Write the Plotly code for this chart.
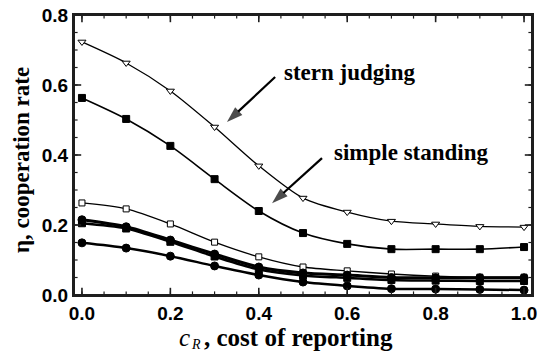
import plotly.graph_objects as go

cost = [0.0, 0.1, 0.2, 0.3, 0.4, 0.5, 0.6, 0.7, 0.8, 0.9, 1.0]

sj_open = [0.723, 0.663, 0.583, 0.480, 0.369, 0.277, 0.237, 0.211, 0.203, 0.196, 0.194]
sj_filled = [0.563, 0.503, 0.426, 0.331, 0.240, 0.177, 0.146, 0.131, 0.131, 0.131, 0.137]
ss_open = [0.263, 0.246, 0.203, 0.151, 0.109, 0.080, 0.069, 0.060, 0.054, 0.051, 0.051]
ss_thick_a = [0.215, 0.195, 0.157, 0.117, 0.080, 0.063, 0.057, 0.050, 0.049, 0.049, 0.049]
ss_thick_b = [0.205, 0.190, 0.152, 0.110, 0.073, 0.056, 0.049, 0.043, 0.041, 0.040, 0.040]
ss_low = [0.149, 0.134, 0.111, 0.083, 0.057, 0.037, 0.026, 0.018, 0.017, 0.016, 0.014]

x_major = [0.0, 0.2, 0.4, 0.6, 0.8, 1.0]
y_major = [0.0, 0.2, 0.4, 0.6, 0.8]
x_minor = [i * 0.05 for i in range(21)]
y_minor = [i * 0.05 for i in range(17)]

X_RANGE = [-0.018, 1.018]
Y_RANGE = [0.0, 0.8]
W, H = 540, 355
M = dict(l=74, r=8, t=15, b=60)
PX_X = (W - M["l"] - M["r"]) / (X_RANGE[1] - X_RANGE[0])
PX_Y = (H - M["t"] - M["b"]) / (Y_RANGE[1] - Y_RANGE[0])
FRAME = "#1e1e1e"

fig = go.Figure()

def add(y, symbol, size, lw, filled=True):
    fig.add_trace(go.Scatter(
        x=cost, y=y, mode="lines+markers",
        line=dict(color="black", width=lw, shape="spline", smoothing=0.8),
        marker=dict(symbol=symbol, size=size,
                    color="black" if filled else "white",
                    line=dict(color="black", width=1)),
        showlegend=False, hoverinfo="skip"))

add(sj_open, "triangle-down", 7, 1.3, filled=False)
add(sj_filled, "square", 7, 1.6)
add(ss_open, "square", 6, 1.3, filled=False)
add(ss_thick_a, "circle", 8, 3)
add(ss_thick_b, "square", 7, 2.5)
add(ss_low, "circle", 8, 2.5)

# inside ticks on all four sides
def ticks(xs, ys, symbol, length, width):
    fig.add_trace(go.Scatter(
        x=xs, y=ys, mode="markers",
        marker=dict(symbol=symbol, size=length, color=FRAME,
                    line=dict(color=FRAME, width=width)),
        showlegend=False, hoverinfo="skip", cliponaxis=False))

for vals, ln, wd in ((x_major, 6, 1.6), (x_minor, 3, 1.2)):
    off = ln / 2 / PX_Y
    ticks(vals, [Y_RANGE[0] + off] * len(vals), "line-ns", ln, wd)
    ticks(vals, [Y_RANGE[1] - off] * len(vals), "line-ns", ln, wd)
for vals, ln, wd in ((y_major, 6, 1.6), (y_minor, 3, 1.2)):
    off = ln / 2 / PX_X
    ticks([X_RANGE[0] + off] * len(vals), vals, "line-ew", ln, wd)
    ticks([X_RANGE[1] - off] * len(vals), vals, "line-ew", ln, wd)

# arrows (tail -> head)
def arrow(x0, y0, x1, y1):
    fig.add_trace(go.Scatter(
        x=[x0, x1], y=[y0, y1], mode="lines+markers",
        line=dict(color="black", width=2.2),
        marker=dict(symbol=["circle", "arrow"], size=[0, 17], color="black",
                    angleref="previous", line=dict(width=0)),
        showlegend=False, hoverinfo="skip"))

arrow(0.437, 0.623, 0.328, 0.494)
arrow(0.543, 0.391, 0.430, 0.262)

serif = "Liberation Serif"

fig.update_xaxes(range=X_RANGE, tickvals=x_major, tickformat=".1f", ticks="",
                 showline=True, linewidth=2, linecolor=FRAME, mirror=True,
                 showgrid=False, zeroline=False, automargin=False,
                 tickfont=dict(family="Liberation Sans", size=19, color="black", weight="bold"))
fig.update_yaxes(range=Y_RANGE, tickvals=y_major, tickformat=".1f", ticks="",
                 showline=True, linewidth=2, linecolor=FRAME, mirror=True,
                 showgrid=False, zeroline=False, automargin=False,
                 tickfont=dict(family="Liberation Sans", size=19, color="black", weight="bold"))

fig.add_shape(type="rect", xref="paper", yref="paper", x0=0, y0=0, x1=1, y1=1,
              line=dict(color=FRAME, width=2), layer="above")

# axis titles as paper annotations
def px_x(p):
    return (p - M["l"]) / (W - M["l"] - M["r"])

def px_y(p):
    return (H - M["b"] - p) / (H - M["t"] - M["b"])

fig.add_annotation(xref="paper", yref="paper", x=px_x(184), y=px_y(337),
                   text="c", showarrow=False, xanchor="center", yanchor="middle",
                   font=dict(family=serif, size=25, color="black", style="italic"))
fig.add_annotation(xref="paper", yref="paper", x=px_x(196), y=px_y(344),
                   text="R", showarrow=False, xanchor="center", yanchor="middle",
                   font=dict(family=serif, size=14, color="black", style="italic"))
fig.add_annotation(xref="paper", yref="paper", x=px_x(202), y=px_y(337),
                   text=", cost of reporting", showarrow=False,
                   xanchor="left", yanchor="middle",
                   font=dict(family=serif, size=25, color="black", weight="bold"))
fig.add_annotation(xref="paper", yref="paper", x=px_x(22), y=px_y(160),
                   text="η, cooperation rate", showarrow=False, textangle=-90,
                   xanchor="center", yanchor="middle",
                   font=dict(family=serif, size=23, color="black", weight="bold"))

annfont = dict(family=serif, size=23, color="black", weight="bold")
fig.add_annotation(x=0.606, y=0.637, text="stern judging", showarrow=False,
                   font=annfont)
fig.add_annotation(x=0.745, y=0.408, text="simple standing", showarrow=False,
                   font=annfont)

fig.update_layout(width=W, height=H, margin=M,
                  plot_bgcolor="white", paper_bgcolor="white")

fig.write_html("out.html", config={"displayModeBar": False},
               post_script="document.body.style.margin='0';")
